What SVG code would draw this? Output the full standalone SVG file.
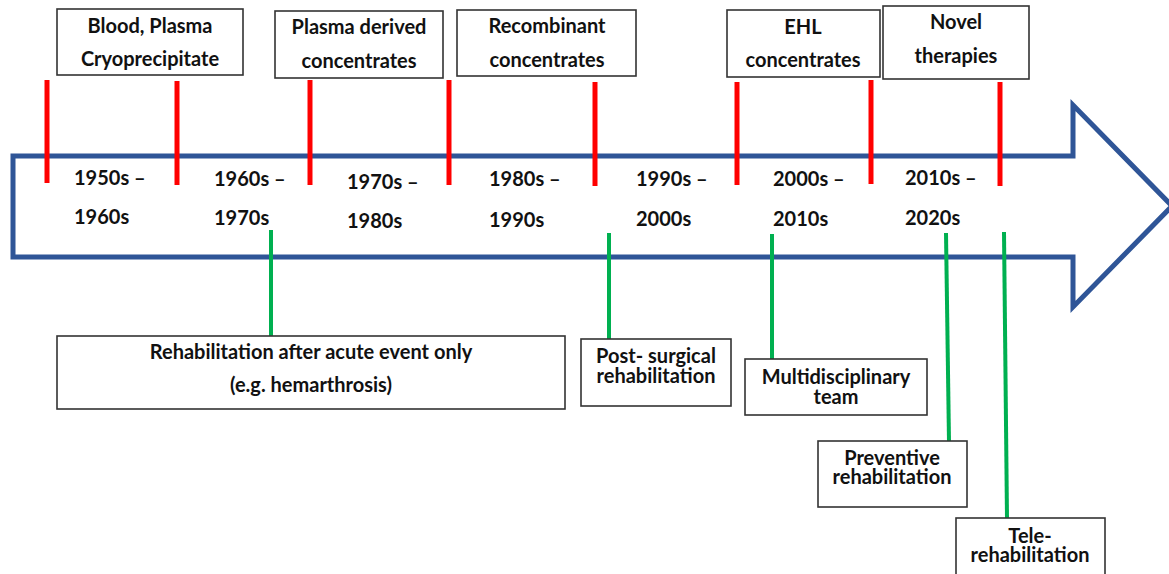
<svg xmlns="http://www.w3.org/2000/svg" width="1169" height="574" viewBox="0 0 1169 574">
<style>
.box{fill:#fff;stroke:#333;stroke-width:1.6}
.t{font-family:Lato,"Liberation Sans",sans-serif;font-weight:bold;font-size:20px;fill:#111;text-anchor:middle}
.y{font-family:Lato,"Liberation Sans",sans-serif;font-weight:bold;font-size:20px;fill:#111}
.red{stroke:#ff0000;stroke-width:5}
.grn{stroke:#00b050;stroke-width:4}
</style>
<rect width="1169" height="574" fill="#fff"/>
<g id="timeline-arrow">
<polygon points="13,156 1073,156 1073,105 1172,206 1073,307 1073,257 13,257" fill="#fff" stroke="#2f5597" stroke-width="5"/>
</g>
<g id="years">
<text class="y" x="74" y="185">1950s –</text><text class="y" x="74" y="224">1960s</text>
<text class="y" x="214" y="186">1960s –</text><text class="y" x="214" y="225">1970s</text>
<text class="y" x="347" y="189">1970s –</text><text class="y" x="347" y="228">1980s</text>
<text class="y" x="489" y="186">1980s –</text><text class="y" x="489" y="227">1990s</text>
<text class="y" x="636" y="186">1990s –</text><text class="y" x="636" y="226">2000s</text>
<text class="y" x="773" y="186">2000s –</text><text class="y" x="773" y="226">2010s</text>
<text class="y" x="905" y="185">2010s –</text><text class="y" x="905" y="225">2020s</text>
</g>
<g id="connectors">
<line class="red" x1="47" y1="80" x2="47" y2="183"/>
<line class="red" x1="177" y1="81" x2="177" y2="185"/>
<line class="red" x1="310" y1="80" x2="310" y2="185"/>
<line class="red" x1="449" y1="80" x2="449" y2="185"/>
<line class="red" x1="595" y1="82" x2="595" y2="186"/>
<line class="red" x1="737" y1="82" x2="737" y2="185"/>
<line class="red" x1="871" y1="80" x2="871" y2="184"/>
<line class="red" x1="1000" y1="82" x2="1000" y2="186"/>
<line class="grn" x1="271" y1="230" x2="271" y2="336"/>
<line class="grn" x1="609" y1="233" x2="609" y2="339"/>
<line class="grn" x1="772" y1="234" x2="772" y2="359"/>
<line class="grn" x1="946" y1="233" x2="949" y2="441"/>
<line class="grn" x1="1004" y1="232" x2="1007" y2="518"/>
</g>
<g id="n-blood"><rect class="box" x="57" y="9" width="186" height="66"/><text class="t" x="150" y="33">Blood, Plasma</text><text class="t" x="150" y="66">Cryoprecipitate</text></g>
<g id="n-plasma"><rect class="box" x="275" y="11" width="168" height="67"/><text class="t" x="359" y="34">Plasma derived</text><text class="t" x="359" y="68">concentrates</text></g>
<g id="n-recomb"><rect class="box" x="457" y="10" width="179" height="66"/><text class="t" x="547" y="33">Recombinant</text><text class="t" x="547" y="67">concentrates</text></g>
<g id="n-ehl"><rect class="box" x="727" y="10" width="153" height="67"/><text class="t" x="803" y="34">EHL</text><text class="t" x="803" y="67">concentrates</text></g>
<g id="n-novel"><rect class="box" x="883" y="6" width="146" height="73"/><text class="t" x="956" y="29">Novel</text><text class="t" x="956" y="63">therapies</text></g>
<g id="n-acute"><rect class="box" x="57" y="336" width="508" height="73"/><text class="t" x="311" y="359">Rehabilitation after acute event only</text><text class="t" x="311" y="392">(e.g. hemarthrosis)</text></g>
<g id="n-postsurg"><rect class="box" x="581" y="339" width="150" height="67"/><text class="t" x="656" y="363">Post- surgical</text><text class="t" x="656" y="383">rehabilitation</text></g>
<g id="n-multi"><rect class="box" x="745" y="359" width="182" height="56"/><text class="t" x="836" y="384">Multidisciplinary</text><text class="t" x="836" y="404">team</text></g>
<g id="n-prev"><rect class="box" x="818" y="441" width="149" height="66"/><text class="t" x="892" y="465">Preventive</text><text class="t" x="892" y="484">rehabilitation</text></g>
<g id="n-tele"><rect class="box" x="956" y="518" width="149" height="62"/><text class="t" x="1030" y="543">Tele-</text><text class="t" x="1030" y="562">rehabilitation</text></g>
</svg>
